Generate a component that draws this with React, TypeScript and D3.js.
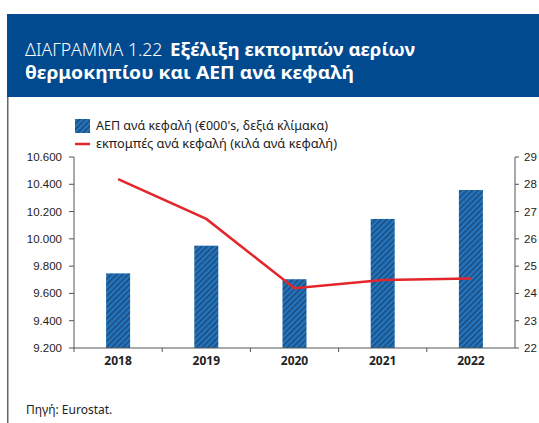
import React from "react";
import * as d3 from "d3";

const years = ["2018", "2019", "2020", "2021", "2022"];
const gdpPerCapita = [9747, 9950, 9704, 10146, 10358];
const emissionsPerCapita = [28.19, 26.73, 24.19, 24.49, 24.55];
const leftTicks = [9200, 9400, 9600, 9800, 10000, 10200, 10400, 10600];
const rightTicks = [22, 23, 24, 25, 26, 27, 28, 29];
const titleLight = "ΔΙΑΓΡΑΜΜΑ 1.22 ";
const titleBold1 = "Εξέλιξη εκπομπών αερίων";
const titleBold2 = "θερμοκηπίου και ΑΕΠ ανά κεφαλή";
const legendBar = "ΑΕΠ ανά κεφαλή (€000's, δεξιά κλίμακα)";
const legendLine = "εκπομπές ανά κεφαλή (κιλά ανά κεφαλή)";
const source = "Πηγή: Eurostat.";

const W = 539;
const H = 423;
const left = 74;
const right = 515;
const top = 157;
const bottom = 348;
const FONT = "'Liberation Sans', Arial, sans-serif";
const HFONT = "'Noto Sans', sans-serif";
const axisColor = "#555";

const fmt = (v: number) => d3.format(",")(v).replace(/,/g, ".");

export default function App() {
  const x = d3.scaleBand<string>().domain(years).range([left, right]);
  const yL = d3.scaleLinear().domain([9200, 10600]).range([bottom, top]);
  const yR = d3.scaleLinear().domain([22, 29]).range([bottom, top]);
  const barW = 24;
  const line = d3
    .line<number>()
    .x((_, i) => (x(years[i]) as number) + x.bandwidth() / 2)
    .y((d) => yR(d));

  return (
    <svg
      width={W}
      height={H}
      style={{ position: "absolute", left: 0, top: 0, fontFamily: FONT }}
    >
      <defs>
        <pattern
          id="hatch"
          patternUnits="userSpaceOnUse"
          width={4}
          height={4}
          patternTransform="rotate(45)"
        >
          <rect width={4} height={4} fill="#2174bd" />
          <rect x={0} width={1.3} height={4} fill="#1d4670" />
        </pattern>
      </defs>
      <rect x={0} y={0} width={W} height={H} fill="#fff" />
      <rect x={7} y={14} width={W - 7} height={83} fill="#024a8f" />
      <line x1={7.75} x2={7.75} y1={97} y2={H} stroke="#666" strokeWidth={1.5} />
      <text x={25} y={56} fill="#fff" fontSize={17.5} fontFamily={HFONT}>
        <tspan fontWeight={300} textLength={142} lengthAdjust="spacingAndGlyphs">{titleLight}</tspan>
        <tspan fontWeight="bold" x={170} textLength={245} lengthAdjust="spacingAndGlyphs">{titleBold1}</tspan>
      </text>
      <text x={25} y={79} fill="#fff" fontSize={17.5} fontWeight="bold" fontFamily={HFONT}
        textLength={329} lengthAdjust="spacingAndGlyphs">
        {titleBold2}
      </text>

      {/* legend */}
      <rect x={75} y={119} width={15} height={14} fill="url(#hatch)" />
      <text x={96} y={130} fontSize={12} fill="#222" fontFamily={HFONT}
        textLength={232} lengthAdjust="spacingAndGlyphs">
        {legendBar}
      </text>
      <line x1={75} x2={90} y1={144} y2={144} stroke="#e3262b" strokeWidth={2.5} />
      <text x={96} y={148} fontSize={12} fill="#222" fontFamily={HFONT}
        textLength={241} lengthAdjust="spacingAndGlyphs">
        {legendLine}
      </text>

      {/* bars */}
      {years.map((yr, i) => (
        <rect
          key={yr}
          x={(x(yr) as number) + x.bandwidth() / 2 - barW / 2}
          y={yL(gdpPerCapita[i])}
          width={barW}
          height={bottom - yL(gdpPerCapita[i])}
          fill="url(#hatch)"
        />
      ))}

      {/* left axis */}
      <line x1={left} x2={left} y1={top} y2={bottom} stroke={axisColor} strokeWidth={1} />
      {leftTicks.map((t) => (
        <g key={t}>
          <line x1={left - 5} x2={left} y1={yL(t)} y2={yL(t)} stroke={axisColor} />
          <text x={62} y={yL(t) + 4} textAnchor="end" fontSize={11.5} fill="#222">
            {fmt(t)}
          </text>
        </g>
      ))}

      {/* right axis */}
      <line x1={right} x2={right} y1={top} y2={bottom} stroke={axisColor} strokeWidth={1} />
      {rightTicks.map((t) => (
        <g key={t}>
          <line x1={right} x2={right + 4} y1={yR(t)} y2={yR(t)} stroke={axisColor} />
          <text x={524} y={yR(t) + 4} fontSize={11.5} fill="#222">
            {t}
          </text>
        </g>
      ))}

      {/* x axis */}
      <line x1={left} x2={right} y1={bottom} y2={bottom} stroke={axisColor} strokeWidth={1} />
      {years.map((yr) => (
        <line
          key={"t" + yr}
          x1={x(yr) as number}
          x2={x(yr) as number}
          y1={bottom}
          y2={bottom + 4}
          stroke={axisColor}
        />
      ))}
      {years.map((yr) => (
        <text
          key={"l" + yr}
          x={(x(yr) as number) + x.bandwidth() / 2}
          y={365}
          textAnchor="middle"
          fontSize={12}
          fontWeight="bold"
          fill="#222"
          fontFamily={HFONT}
        >
          {yr}
        </text>
      ))}

      {/* line */}
      <path
        d={line(emissionsPerCapita) || ""}
        fill="none"
        stroke="#e3262b"
        strokeWidth={2.5}
      />

      <text x={26} y={414} fontSize={12} fill="#222" fontFamily={HFONT}>
        {source}
      </text>
    </svg>
  );
}
